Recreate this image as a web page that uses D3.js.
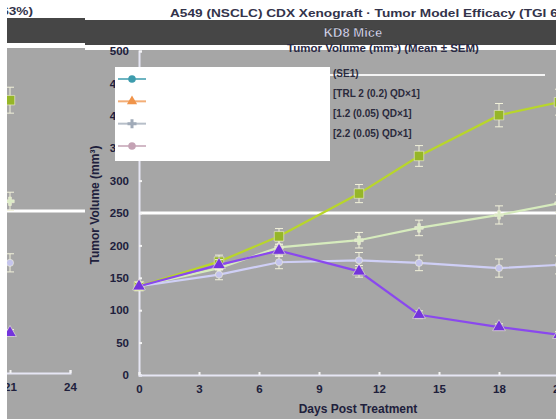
<!DOCTYPE html>
<html><head><meta charset="utf-8">
<script src="https://cdn.jsdelivr.net/npm/d3@7/dist/d3.min.js"></script>
<style>html,body{margin:0;padding:0;background:#fff;overflow:hidden}svg{display:block;font-family:"Liberation Sans",Arial,sans-serif}</style>
</head><body>
<svg id="s" width="556" height="419"></svg>
<script>
// ---- data ----
const days = [0, 4, 7, 11, 14, 18, 21];
const xTicks = [0, 3, 6, 9, 12, 15, 18, 21, 24];
const yTicks = [0, 50, 100, 150, 200, 250, 300, 350, 400, 450, 500];
const seriesNames = ["Vehicle", "Low dose", "Mid dose", "High dose"];
const vehicleVals = [137, 175, 214, 280, 338, 401, 421];
const vehicleSem  = [6, 10, 12, 14, 16, 18, 20];
const lowVals     = [137, 165, 197, 208, 227, 247, 265];
const lowSem      = [6, 9, 10, 12, 12, 14, 14];
const midVals     = [137, 155, 174, 177, 173, 165, 170];
const midSem      = [6, 8, 10, 12, 12, 14, 14];
const highVals    = [137, 170, 192, 160, 93, 74, 62];
const highSem     = [6, 8, 9, 9, 6, 5, 5];
const legendLabels = ["Vehicle", "Cmpd A", "Cmpd B", "Cmpd C"];
const legendNotes = ["(SE1)", "[TRL 2 (0.2) QD×1]", "[1.2 (0.05) QD×1]", "[2.2 (0.05) QD×1]"];
const topTitle = "A549 (NSCLC) CDX Xenograft · Tumor Model Efficacy (TGI 63%)";
const title = "KD8 Mice";
const subtitle = "Tumor Volume (mm³) (Mean ± SEM)";

// ---- drawing ----
const svg = d3.select("#s");
const defs = svg.append("defs");
defs.append("clipPath").attr("id", "leftClip").append("rect")
  .attr("x", 7).attr("y", 0).attr("width", 78).attr("height", 419);

const chart = svg.append("g").attr("id", "chart");
const W = 660;
chart.append("rect").attr("x", 0).attr("y", 0).attr("width", W).attr("height", 419).attr("fill", "#fff");
chart.append("rect").attr("x", 7).attr("y", 50).attr("width", W).attr("height", 380).attr("fill", "#a6a6a6");
chart.append("rect").attr("x", 7).attr("y", 20).attr("width", W).attr("height", 25).attr("fill", "#464646");

chart.append("text").attr("x", 170).attr("y", 17).attr("font-size", 11).attr("font-weight", "bold")
  .attr("fill", "#33334a").attr("textLength", 412).attr("lengthAdjust", "spacingAndGlyphs").text(topTitle);
chart.append("text").attr("x", 353).attr("y", 37).attr("text-anchor", "middle").attr("font-size", 13)
  .attr("font-weight", "bold").attr("fill", "#dcdcf4").attr("stroke", "#222").attr("stroke-width", 0.4).text(title);
chart.append("text").attr("x", 383).attr("y", 52).attr("text-anchor", "middle").attr("font-size", 11.5)
  .attr("font-weight", "bold").attr("fill", "#2a2a44").text(subtitle);

const x = d3.scaleLinear().domain([0, 24]).range([139, 619]);
const y = d3.scaleLinear().domain([0, 500]).range([375, 51]);

// white reference line at 250
chart.append("line").attr("x1", 139).attr("x2", W).attr("y1", y(250)).attr("y2", y(250))
  .attr("stroke", "#fff").attr("stroke-width", 3);

// axes
const yAxis = chart.append("g").attr("transform", "translate(139,0)")
  .call(d3.axisLeft(y).tickValues(yTicks).tickSize(-3).tickPadding(10));
const xAxis = chart.append("g").attr("transform", "translate(0,375)")
  .call(d3.axisBottom(x).tickValues(xTicks).tickSize(-3).tickPadding(10));
[xAxis, yAxis].forEach(a => {
  a.select(".domain").attr("stroke", "#e6e6f4").attr("stroke-width", 2);
  a.selectAll(".tick line").attr("stroke", "#f4f4f4").attr("stroke-width", 2);
  a.selectAll(".tick text").attr("fill", "#20203c").attr("font-size", 11.5).attr("font-weight", "bold")
    .attr("font-family", "Liberation Sans, Arial, sans-serif");
});

chart.append("text").attr("x", 358).attr("y", 413).attr("text-anchor", "middle").attr("font-size", 12)
  .attr("font-weight", "bold").attr("fill", "#20203c").text("Days Post Treatment");
chart.append("text").attr("transform", "translate(99,205) rotate(-90)").attr("text-anchor", "middle")
  .attr("font-size", 12).attr("font-weight", "bold").attr("fill", "#20203c").text("Tumor Volume (mm³)");

// series
const series = [
  {vals: lowVals, sem: lowSem, line: "#d6ebbd", fill: "#dcecc6", sym: d3.symbolCross, size: 40},
  {vals: midVals, sem: midSem, line: "#cfcff6", fill: "#c4c4ec", sym: d3.symbolCircle, size: 40},
  {vals: vehicleVals, sem: vehicleSem, line: "#b8d62a", fill: "#96b628", sym: d3.symbolSquare, size: 90},
  {vals: highVals, sem: highSem, line: "#8a48ee", fill: "#7434dc", sym: d3.symbolTriangle, size: 70}
];
const lineGen = d3.line().x((d, i) => x(days[i])).y(d => y(d));
series.forEach(s => {
  const g = chart.append("g");
  // error bars
  s.vals.forEach((v, i) => {
    const cx = x(days[i]);
    g.append("line").attr("x1", cx).attr("x2", cx).attr("y1", y(v - s.sem[i])).attr("y2", y(v + s.sem[i]))
      .attr("stroke", "#f2f2da").attr("stroke-width", 1);
    [v - s.sem[i], v + s.sem[i]].forEach(e => g.append("line").attr("x1", cx - 4).attr("x2", cx + 4)
      .attr("y1", y(e)).attr("y2", y(e)).attr("stroke", "#f2f2da").attr("stroke-width", 1));
  });
  g.append("path").datum(s.vals).attr("d", lineGen).attr("fill", "none")
    .attr("stroke", s.line).attr("stroke-width", 2.2);
  g.selectAll("path.m").data(s.vals).join("path").attr("class", "m")
    .attr("transform", (d, i) => `translate(${x(days[i])},${y(d)})`)
    .attr("d", d3.symbol().type(s.sym).size(s.size)).attr("fill", s.fill).attr("stroke", "#f0f0d8").attr("stroke-width", 0.6);
});

// legend box
const lg = chart.append("g");
lg.append("rect").attr("x", 115).attr("y", 67).attr("width", 215).attr("height", 94).attr("fill", "#fff");
const legColors = ["#3d9cad", "#f0944a", "#a0aab8", "#c4a2b4"];
const legSyms = [d3.symbolCircle, d3.symbolTriangle, d3.symbolCross, d3.symbolCircle];
const ly = d3.scalePoint().domain(legendLabels).range([79, 146]);
legendLabels.forEach((name, i) => {
  lg.append("line").attr("x1", 118).attr("x2", 146).attr("y1", ly(name)).attr("y2", ly(name))
    .attr("stroke", legColors[i]).attr("stroke-width", 2).attr("opacity", 0.75);
  lg.append("path").attr("transform", `translate(132,${ly(name)})`)
    .attr("d", d3.symbol().type(legSyms[i]).size(45)).attr("fill", legColors[i]);
  lg.append("text").attr("x", 152).attr("y", ly(name) + 4).attr("font-size", 11).attr("fill", "#fff").text(name);
});
const ny = d3.scalePoint().domain(legendNotes).range([73, 133]);
chart.append("line").attr("x1", 330).attr("x2", 545).attr("y1", 75).attr("y2", 75).attr("stroke", "#f4f4f4").attr("stroke-width", 2);
legendNotes.forEach(t => chart.append("text").attr("x", 333).attr("y", ny(t) + 4).attr("font-size", 10)
  .attr("font-weight", "bold").attr("fill", "#2a2a3c").text(t));

// wrapped copy of the right part shown on the left edge
svg.append("g").attr("clip-path", "url(#leftClip)")
  .append("use").attr("href", "#chart").attr("transform", "translate(-549,-2)");
svg.append("rect").attr("x", 0).attr("y", 0).attr("width", 7).attr("height", 419).attr("fill", "#fff");
</script>
</body></html>
